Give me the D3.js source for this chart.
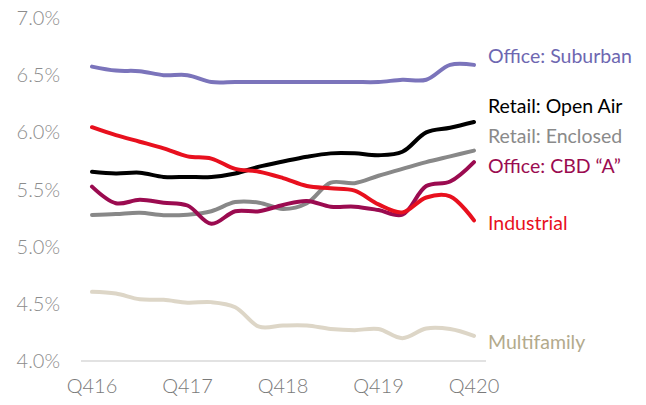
<!DOCTYPE html>
<html>
<head>
<meta charset="utf-8">
<script src="https://cdn.jsdelivr.net/npm/d3@7"></script>
<style>
  body { margin: 0; background: #fff; }
  text { font-family: Lato, "Open Sans", sans-serif; }
</style>
</head>
<body>
<svg width="646" height="405"></svg>
<script>
// quarters Q416 .. Q420
var quarters = ["Q416","Q117","Q217","Q317","Q417","Q118","Q218","Q318","Q418",
                "Q119","Q219","Q319","Q419","Q120","Q220","Q320","Q420"];
var tickLabels = ["Q416","Q417","Q418","Q419","Q420"];
var yTicks = [4.0, 4.5, 5.0, 5.5, 6.0, 6.5, 7.0];

// cap rates (%)
var officeSuburban = [6.575,6.54,6.535,6.50,6.50,6.44,6.44,6.44,6.44,6.44,6.44,6.44,6.44,6.46,6.46,6.59,6.59];
var retailOpenAir  = [5.655,5.64,5.647,5.61,5.61,5.61,5.64,5.70,5.745,5.787,5.816,5.816,5.80,5.83,6.00,6.04,6.09];
var retailEnclosed = [5.277,5.285,5.297,5.275,5.28,5.31,5.39,5.385,5.33,5.38,5.56,5.555,5.62,5.68,5.74,5.79,5.84];
var officeCBD      = [5.525,5.38,5.41,5.385,5.36,5.20,5.31,5.31,5.365,5.40,5.35,5.35,5.32,5.28,5.53,5.57,5.74];
var industrial     = [6.045,5.975,5.918,5.86,5.79,5.77,5.68,5.656,5.60,5.53,5.51,5.49,5.37,5.30,5.43,5.44,5.23];
var multifamily    = [4.605,4.59,4.54,4.535,4.51,4.515,4.47,4.30,4.31,4.31,4.28,4.27,4.28,4.20,4.285,4.28,4.22];

var seriesNames = ["Office: Suburban","Retail: Open Air","Retail: Enclosed","Office: CBD \u201cA\u201d","Industrial","Multifamily"];
var seriesValues = [officeSuburban, retailOpenAir, retailEnclosed, officeCBD, industrial, multifamily];
// where each label sits, in % units on the y scale
var labelAt = [6.667, 6.23, 5.968, 5.705, 5.207, 4.166];

var lineColors  = ["#7b74bb","#000000","#888888","#9b0b50","#e8101e","#ddd6c7"];
var labelColors = ["#6e67b1","#000000","#8a8a8a","#9b0b50","#e8101e","#b3aa8c"];

var svg = d3.select("svg");

var x = d3.scalePoint().domain(quarters).range([92, 474]);
var y = d3.scaleLinear().domain([4.0, 7.0]).range([361, 18]);

// title, cut off at the top edge like the original (only descender tips show)
svg.append("text")
  .attr("x", 323).attr("y", -5)
  .attr("text-anchor", "middle")
  .style("font-size", "22px").style("font-weight", "bold")
  .style("fill", "#e8101e")
  .text("Average Cap Rates by Property Type (%)");

// y labels
svg.selectAll(".ylab")
  .data(yTicks)
  .enter().append("text")
    .attr("class", "ylab")
    .attr("x", 60)
    .attr("y", function(d) { return y(d); })
    .attr("dy", "0.35em")
    .attr("text-anchor", "end")
    .style("font-size", "20px")
    .style("font-weight", 300)
    .style("fill", "#8c8c8c")
    .text(function(d) { return d.toFixed(1) + "%"; });

// baseline
svg.append("line")
  .attr("x1", 81).attr("x2", 486)
  .attr("y1", y(4.0)).attr("y2", y(4.0))
  .style("stroke", "#d9d9d9").style("stroke-width", 1.5);

// x labels
svg.selectAll(".xlab")
  .data(tickLabels)
  .enter().append("text")
    .attr("class", "xlab")
    .attr("x", function(d) { return x(d); })
    .attr("y", 393)
    .attr("text-anchor", "middle")
    .style("font-size", "20px")
    .style("font-weight", 300)
    .style("fill", "#7a7a7a")
    .text(function(d) { return d; });

var line = d3.line()
  .x(function(d, i) { return x(quarters[i]); })
  .y(function(d) { return y(d); })
  .curve(d3.curveCatmullRom.alpha(0.5));

// draw back to front so black/red sit on top like the original
var order = [5, 0, 2, 3, 1, 4];
order.forEach(function(k) {
  svg.append("path")
    .datum(seriesValues[k])
    .attr("d", line)
    .style("fill", "none")
    .style("stroke", lineColors[k])
    .style("stroke-width", 4)
    .style("stroke-linejoin", "round")
    .style("stroke-linecap", "round");
});

// series labels
svg.selectAll(".slab")
  .data(seriesNames)
  .enter().append("text")
    .attr("class", "slab")
    .attr("x", 488)
    .attr("y", function(d, i) { return y(labelAt[i]); })
    .attr("dy", "0.35em")
    .style("font-size", "19.5px")
    .style("fill", function(d, i) { return labelColors[i]; })
    .text(function(d) { return d; });
</script>
</body>
</html>
